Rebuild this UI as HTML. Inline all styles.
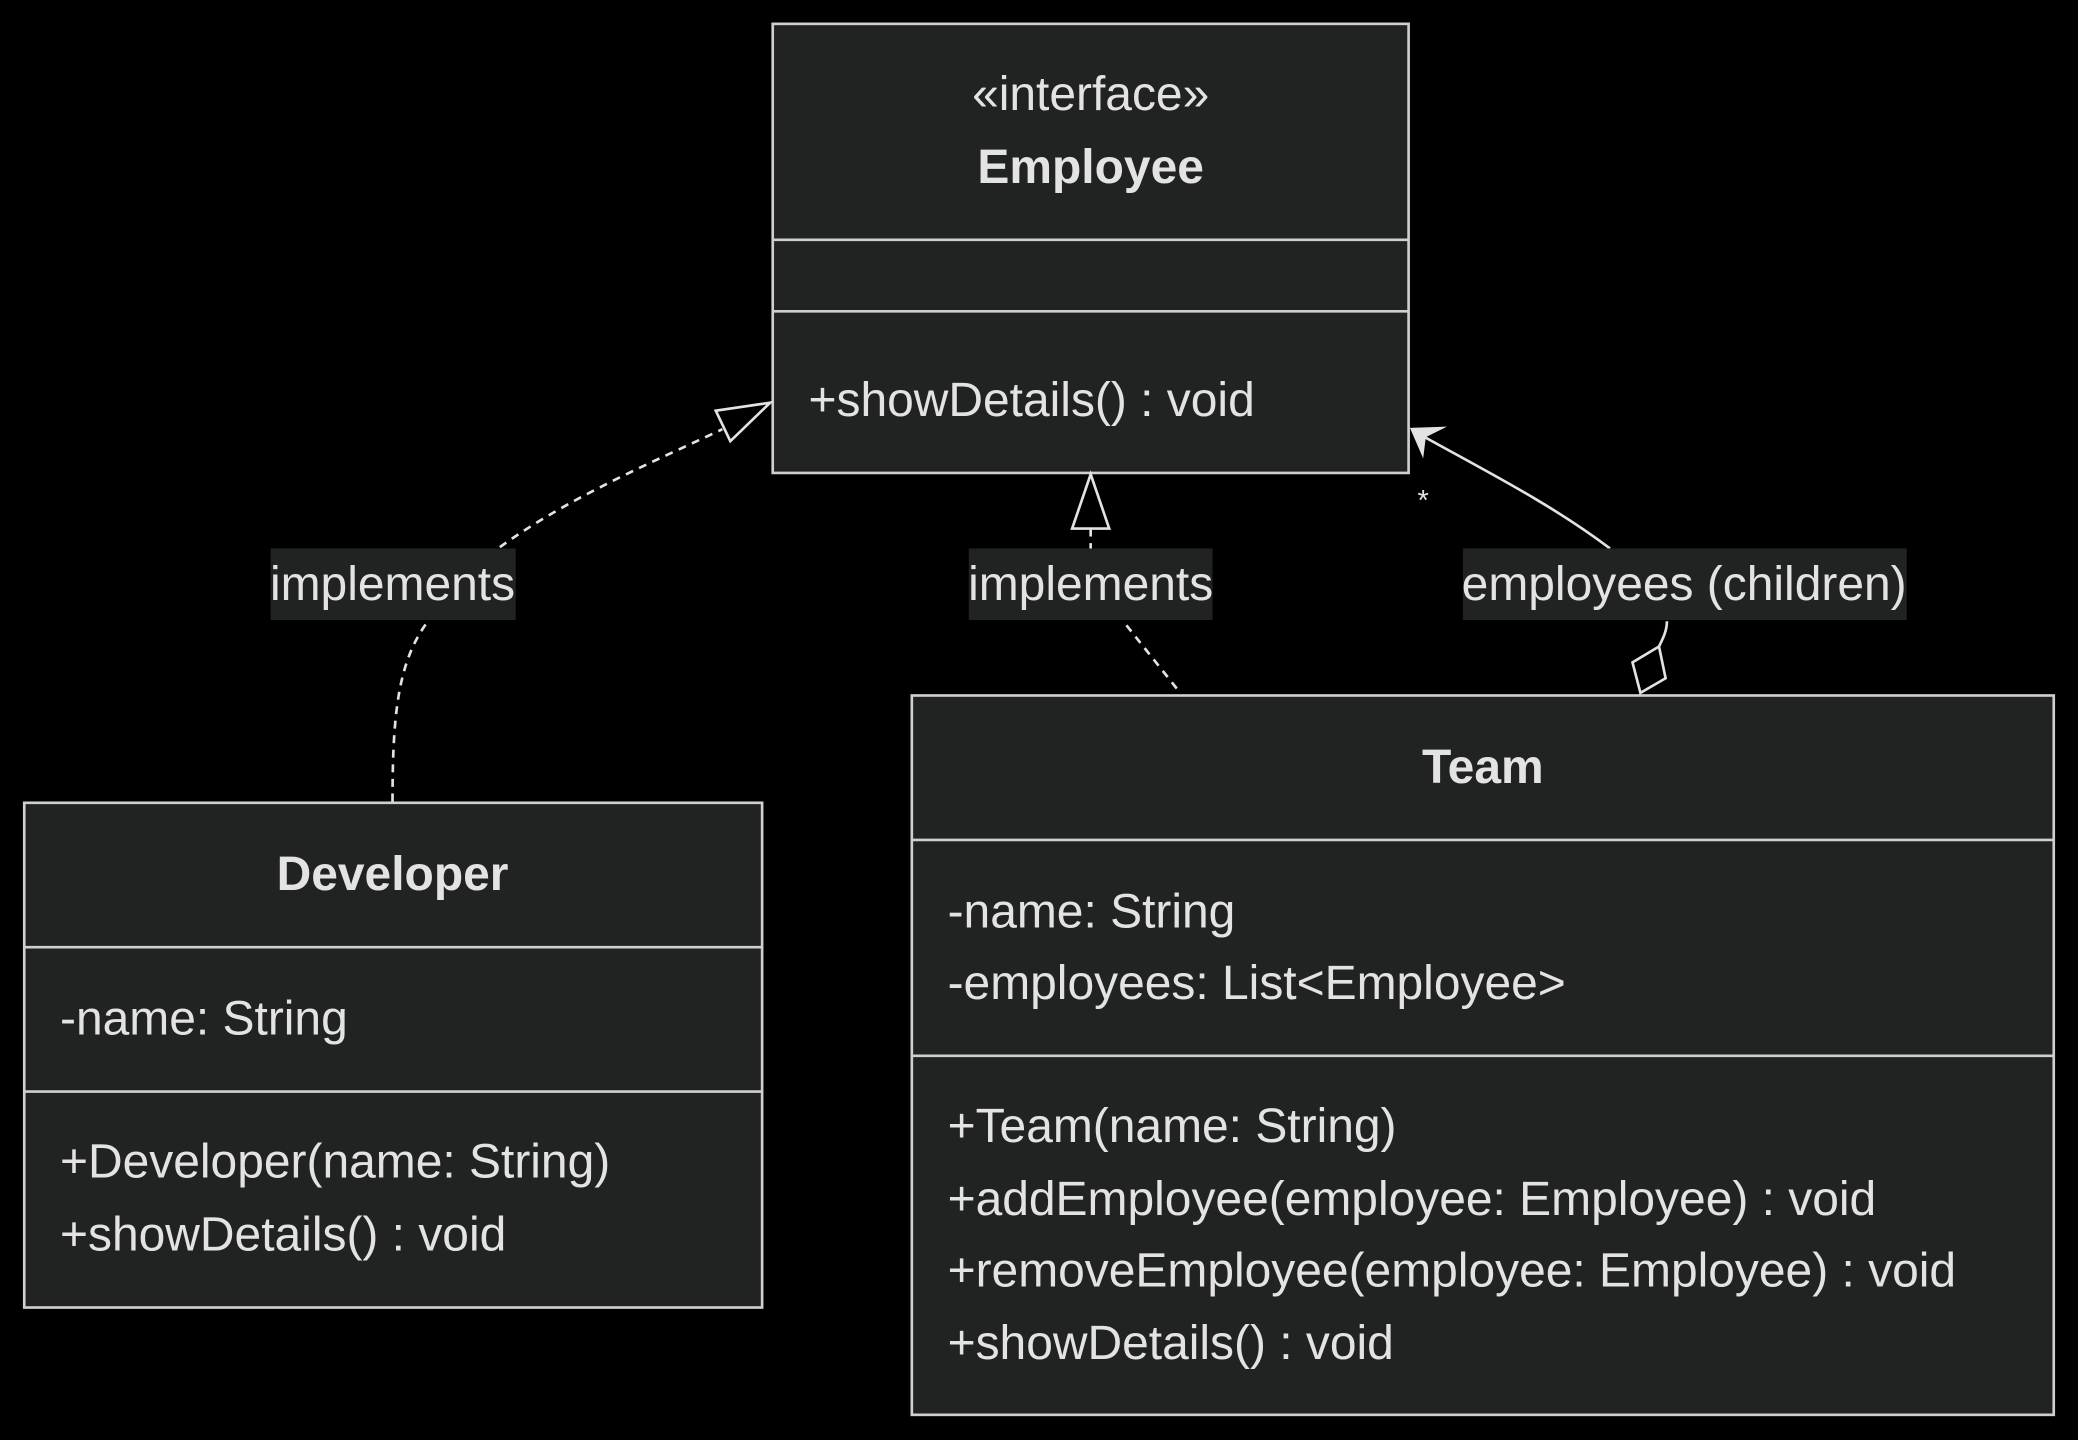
<!DOCTYPE html>
<html><head><meta charset="utf-8"><style>
html,body{margin:0;padding:0;background:#000;width:2078px;height:1440px;overflow:hidden}
svg{display:block}
text{font-family:"Liberation Sans",sans-serif;fill:#e3e3e3}
</style></head><body>
<svg width="2078" height="1440" viewBox="0 0 1568 1087" xmlns="http://www.w3.org/2000/svg">
<rect width="1568" height="1087" fill="#000"/>
<g stroke="#cfcfcf" stroke-width="2" fill="#212322">
<rect x="583" y="18" width="480" height="339"/>
<line x1="583" y1="181" x2="1063" y2="181"/><line x1="583" y1="235" x2="1063" y2="235"/>
<rect x="18" y="606" width="557" height="381"/>
<line x1="18" y1="715" x2="575" y2="715"/><line x1="18" y1="824" x2="575" y2="824"/>
<rect x="688" y="525" width="862" height="543"/>
<line x1="688" y1="634" x2="1550" y2="634"/><line x1="688" y1="797" x2="1550" y2="797"/>
</g>
<g font-size="36.2">
<text x="823" y="83" text-anchor="middle">«interface»</text>
<text x="823" y="138" text-anchor="middle" font-weight="bold">Employee</text>
<text x="610" y="314">+showDetails() : void</text>
<text x="296" y="672" text-anchor="middle" font-weight="bold">Developer</text>
<text x="45" y="781">-name: String</text>
<text x="45" y="889">+Developer(name: String)</text>
<text x="45" y="944">+showDetails() : void</text>
<text x="1119" y="591" text-anchor="middle" font-weight="bold">Team</text>
<text x="715" y="700">-name: String</text>
<text x="715" y="754">-employees: List&lt;Employee&gt;</text>
<text x="715" y="862">+Team(name: String)</text>
<text x="715" y="917">+addEmployee(employee: Employee) : void</text>
<text x="715" y="971">+removeEmployee(employee: Employee) : void</text>
<text x="715" y="1026">+showDetails() : void</text>
</g>
<g fill="none" stroke="#e3e3e3" stroke-width="2">
<path d="M296 605 C296 540 300 500 322 470" stroke-dasharray="6,5"/>
<path d="M377 413 C430 375 490 350 545 324" stroke-dasharray="6,5"/>
<polygon points="581,304 540,310 551,333" fill="#000"/>
<path d="M823 399 L823 414" stroke-dasharray="6,5"/>
<path d="M850 472 L889 521" stroke-dasharray="6,5"/>
<polygon points="823,358 809,399 837,399" fill="#000"/>
<path d="M1215 414 C1170 380 1120 355 1068 326"/>
<path d="M1258 469 C1258 476 1255 482 1252 488"/>
<polygon points="1252,488 1232,500 1238,523 1257,512" fill="#000"/>
</g>
<polygon points="1064,323 1092,322 1076,330 1074,346" fill="#e3e3e3"/>
<text x="1074" y="385" font-size="22" text-anchor="middle">*</text>
<rect x="204" y="414" width="185" height="54" fill="#212322"/>
<rect x="731" y="414" width="184" height="54" fill="#212322"/>
<rect x="1104" y="414" width="335" height="54" fill="#212322"/>
<g font-size="36.2" text-anchor="middle">
<text x="296" y="453">implements</text>
<text x="823" y="453">implements</text>
<text x="1271" y="453">employees (children)</text>
</g>
</svg>
</body></html>
